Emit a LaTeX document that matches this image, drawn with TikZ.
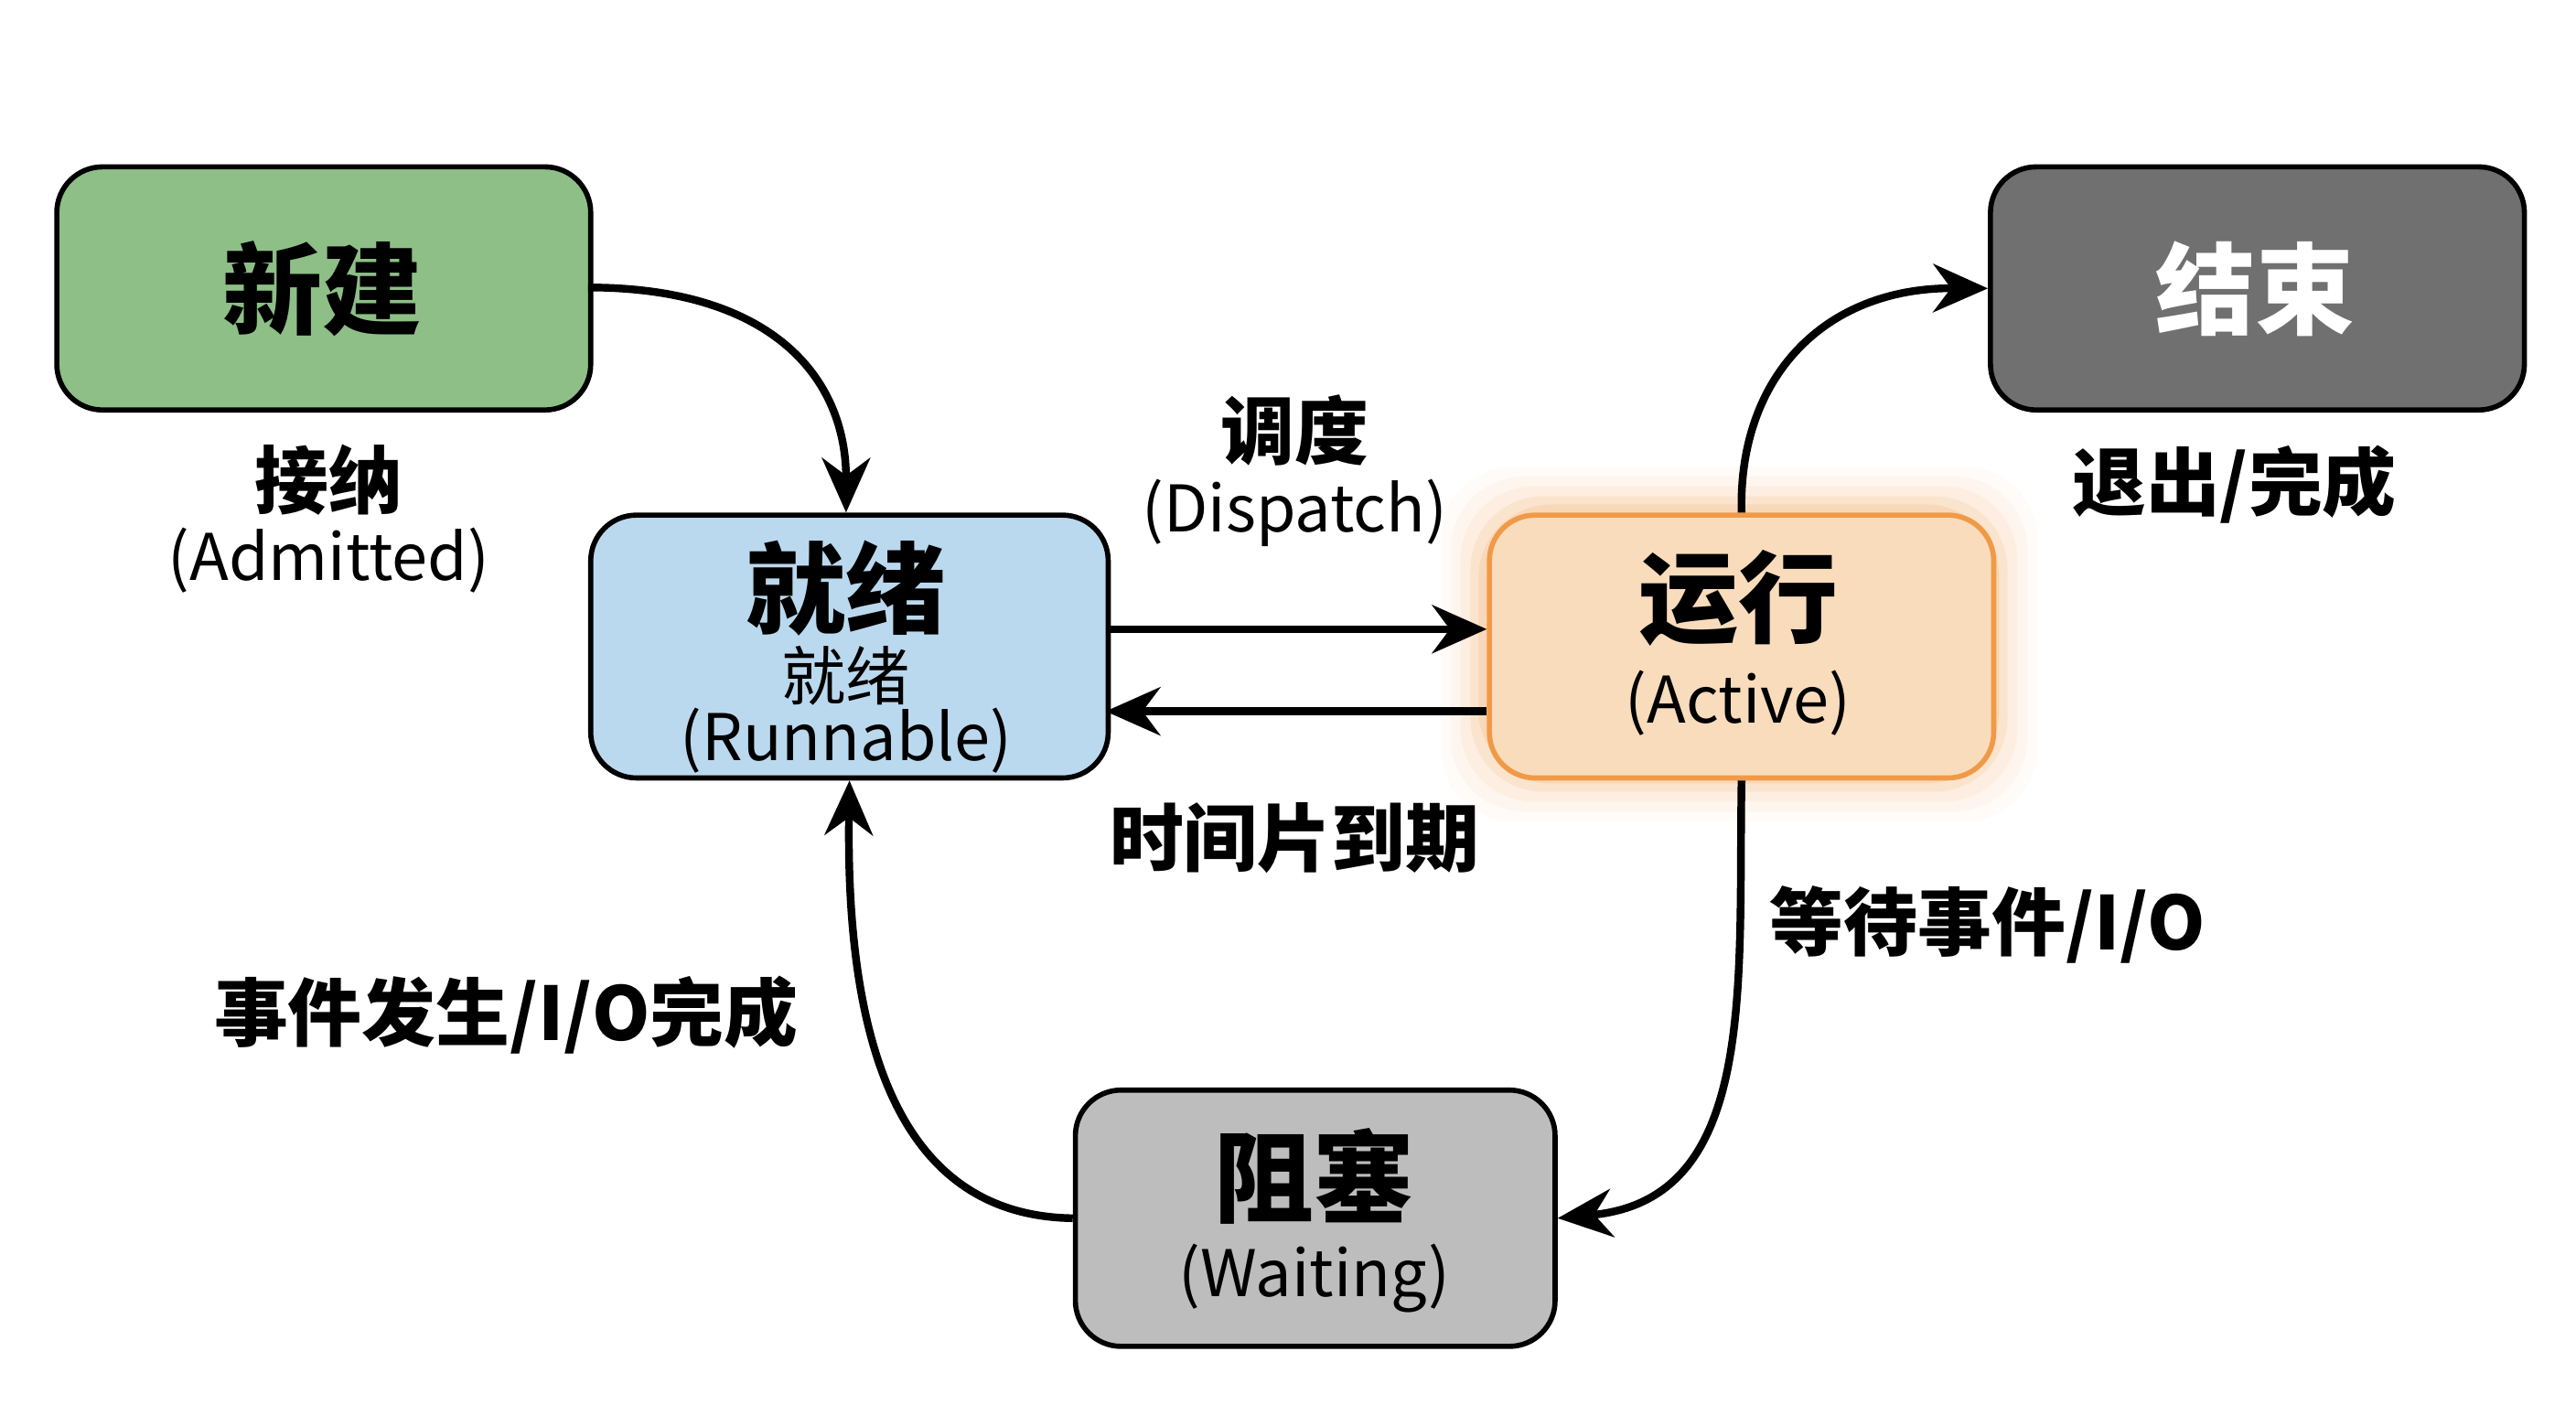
\documentclass[tikz,border=0pt]{standalone}
\usepackage{fontspec}
\setmainfont{Noto Sans CJK SC}
\usetikzlibrary{arrows.meta}
\definecolor{gfill}{HTML}{8DBF87}
\definecolor{bfill}{HTML}{BBD9EE}
\definecolor{ofill}{HTML}{F8DCBC}
\definecolor{oline}{HTML}{F09A48}
\definecolor{dfill}{HTML}{707070}
\definecolor{wfill}{HTML}{BDBDBD}
\begin{document}
\begin{tikzpicture}[x=0.01796cm,y=-0.01796cm,
  st/.style={draw=black,line width=1.6pt,rounded corners=0.5cm,anchor=north west},
  arr/.style={-{Stealth[length=17pt,width=15pt]},line width=2.4pt},
  big/.style={font=\fontsize{31}{33}\selectfont\bfseries},
  lab/.style={font=\fontsize{23}{27}\selectfont\bfseries,align=center},
  sub/.style={font=\fontsize{20}{23}\selectfont,align=center}]
\useasboundingbox (0,0) rectangle (1568,855);
% glow
\foreach \i/\o in {28/0.04,22/0.06,16/0.08,10/0.12,5/0.16}{
  \fill[oline,opacity=\o,rounded corners=0.8cm] (905-\i,312-\i) rectangle (1212+\i,472+\i);}
\node[st,fill=gfill,minimum width=325*0.01796cm,minimum height=148*0.01796cm] (new) at (33,100) {};
\node[st,fill=bfill,minimum width=315*0.01796cm,minimum height=160*0.01796cm] (rdy) at (358,312) {};
\node[st,draw=oline,fill=ofill,minimum width=307*0.01796cm,minimum height=160*0.01796cm] (run) at (905,312) {};
\node[st,fill=dfill,minimum width=325*0.01796cm,minimum height=148*0.01796cm] (end) at (1210,100) {};
\node[st,fill=wfill,minimum width=292*0.01796cm,minimum height=156*0.01796cm] (blk) at (653,662) {};
\node[big] (t1) at (196,176) {新建};
\node[big] (t2) at (515,358) {就绪};
\node[sub] (t2b) at (515,432) {就绪\\[-4pt](Runnable)};
\node[big] (t3) at (1058,364) {运行};
\node[sub] (t3b) at (1058,428) {(Active)};
\node[big,white] (t4) at (1373,176) {结束};
\node[big] (t5) at (800,716) {阻塞};
\node[sub] (t5b) at (800,778) {(Waiting)};
\node[lab] (l1) at (200,292) {接纳};
\node[sub] (l1b) at (200,341) {(Admitted)};
\node[lab] (l2) at (788,262) {调度};
\node[sub] (l2b) at (788,312) {(Dispatch)};
\node[lab] (l3) at (788,510) {时间片到期};
\node[lab] (l4) at (1360,295) {退出/完成};
\node[lab] (l5) at (1210,563) {等待事件/I/O};
\node[lab] (l6) at (308,618) {事件发生/I/O完成};
\coordinate (a1) at (358,175); \coordinate (a2) at (515,312);
\draw[arr] (a1) .. controls (470,175) and (515,230) .. (a2);
\draw[arr] (673,383) -- (905,383);
\draw[arr] (905,433) -- (673,433);
\draw[arr] (run.north) .. controls (1058,230) and (1110,175) .. (end.west);
\draw[arr] (run.south) .. controls (1058,600) and (1070,730) .. (blk.east);
\draw[arr] (blk.west) .. controls (540,740) and (515,620) .. (rdy.south);
\end{tikzpicture}
\end{document}
